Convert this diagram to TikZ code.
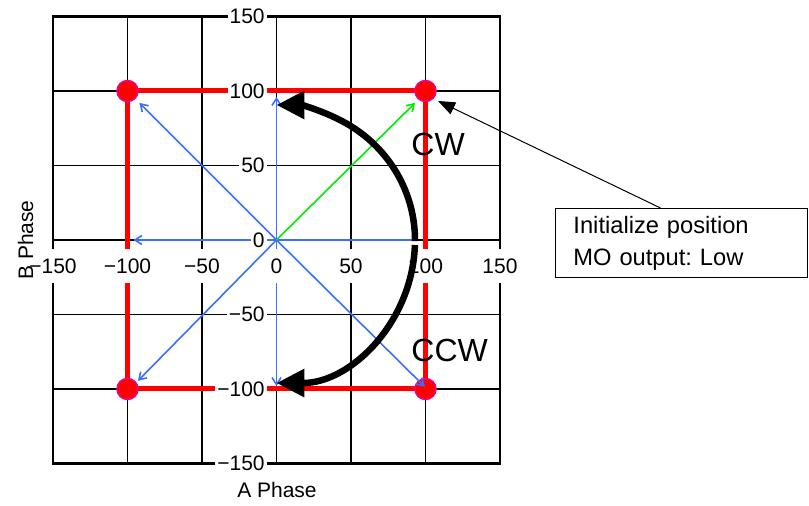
\documentclass[tikz,border=0pt]{standalone}
\usepackage{fontspec}
\setmainfont{Liberation Sans}
\usetikzlibrary{arrows.meta,calc}
\definecolor{ablue}{RGB}{60,110,255}
\definecolor{agreen}{RGB}{0,235,0}
\frenchspacing
\begin{document}
\begin{tikzpicture}[x=1.49pt,y=1.49pt,
  gridline/.style={line width=1.2pt, black},
  frameline/.style={line width=2.7pt, black},
  redline/.style={red, line width=5pt},
  vec/.style={ablue, line width=1.6pt, -{Straight Barb[length=7pt,width=9pt]}},
  gvec/.style={agreen, line width=1.6pt, -{Straight Barb[length=7pt,width=9pt]}},
  ticklbl/.style={fill=white, font=\fontsize{21}{25}\selectfont, inner xsep=2pt, inner ysep=0pt},
  corner/.style={circle, fill=red, draw=magenta, line width=1.5pt, minimum size=21pt, inner sep=0pt},
  bigarc/.style={line width=6.5pt, black, -{Triangle[length=28pt,width=27pt]}},
  axtitle/.style={font=\fontsize{21}{25}\selectfont, inner sep=0pt},
  dirlbl/.style={font=\fontsize{32}{38}\selectfont, inner sep=0pt, anchor=base west},
  calloutbox/.style={draw, line width=1pt, anchor=north west, minimum width=252pt, minimum height=69pt,
    inner xsep=17.7pt, align=left, text width=216pt, font=\fontsize{23.7}{32}\selectfont}
]
\useasboundingbox (-185.57,-178.52) rectangle (357.38,161.07);

% grid and frame
\foreach \v in {-100,-50,0,50,100} {
  \draw[gridline] (\v,-150) -- (\v,150);
  \draw[gridline] (-150,\v) -- (150,\v);
}
\draw[frameline] (-150,-150) rectangle (150,150);

% red square
\draw[redline] (-100,100) -- (100,100) -- (100,-100) -- (-100,-100) -- cycle;

% corner markers
\node[corner] (cTR) at (100,100) {};
\node[corner] (cTL) at (-100,100) {};
\node[corner] (cBL) at (-100,-100) {};
\node[corner] (cBR) at (100,-100) {};

% vectors
\coordinate (O) at (0,0);
\coordinate (eU) at (0,96);
\coordinate (eUL) at (-92,92);
\coordinate (eL) at (-96,0);
\coordinate (eDL) at (-93,-94.5);
\coordinate (eD) at (0,-98);
\coordinate (eDR) at (99.5,-98.5);
\coordinate (eR) at (93,0);
\coordinate (eUR) at (93,92);
\draw[ablue, line width=1.6pt] (O) -- (eR);
\foreach \e in {eU,eUL,eL,eDL,eD,eDR} { \draw[vec] (O) -- (\e); }
\draw[gvec] (O) -- (eUR);

% tick labels
\foreach \v/\t in {150/150,100/100,50/50,0/0,-50/−50,-100/−100,-150/−150} {
  \node[ticklbl, anchor=east] (y\v) at (-6.5,\v) {\t};
}
\foreach \v/\t in {-150/−150,-100/−100,-50/−50,0/0,50/50,100/100,150/150} {
  \node[ticklbl, minimum height=34pt] (x\v) at (\v,-17.5) {\t};
}

% callout
\node[calloutbox] (callout) at (186.9,21.48) {Initialize position\\MO output: Low};
\coordinate (ptip) at (108.4,93.3);
\draw[line width=1pt, -{Triangle[length=17pt,width=13pt]}]
  ($(callout.north west)!0.417!(callout.north east)$) -- (ptip);

% rotation arcs
\draw[bigarc] (-0.5:92.95 and 90.6) arc[start angle=-0.5, end angle=90, x radius=92.95, y radius=90.6];
\draw[bigarc] (-2:92.95 and 96) arc[start angle=-2, end angle=-90, x radius=92.95, y radius=96];

\node[dirlbl] (cw) at (90.4,57.0) {CW};
\node[dirlbl] (ccw) at (90.4,-81.7) {CCW};

% axis titles
\node[axtitle, anchor=base] (atitle) at (0.34,-172.5) {A Phase};
\node[axtitle, anchor=base, rotate=90] (btitle) at (-163.4,0) {B Phase};
\end{tikzpicture}
\end{document}
